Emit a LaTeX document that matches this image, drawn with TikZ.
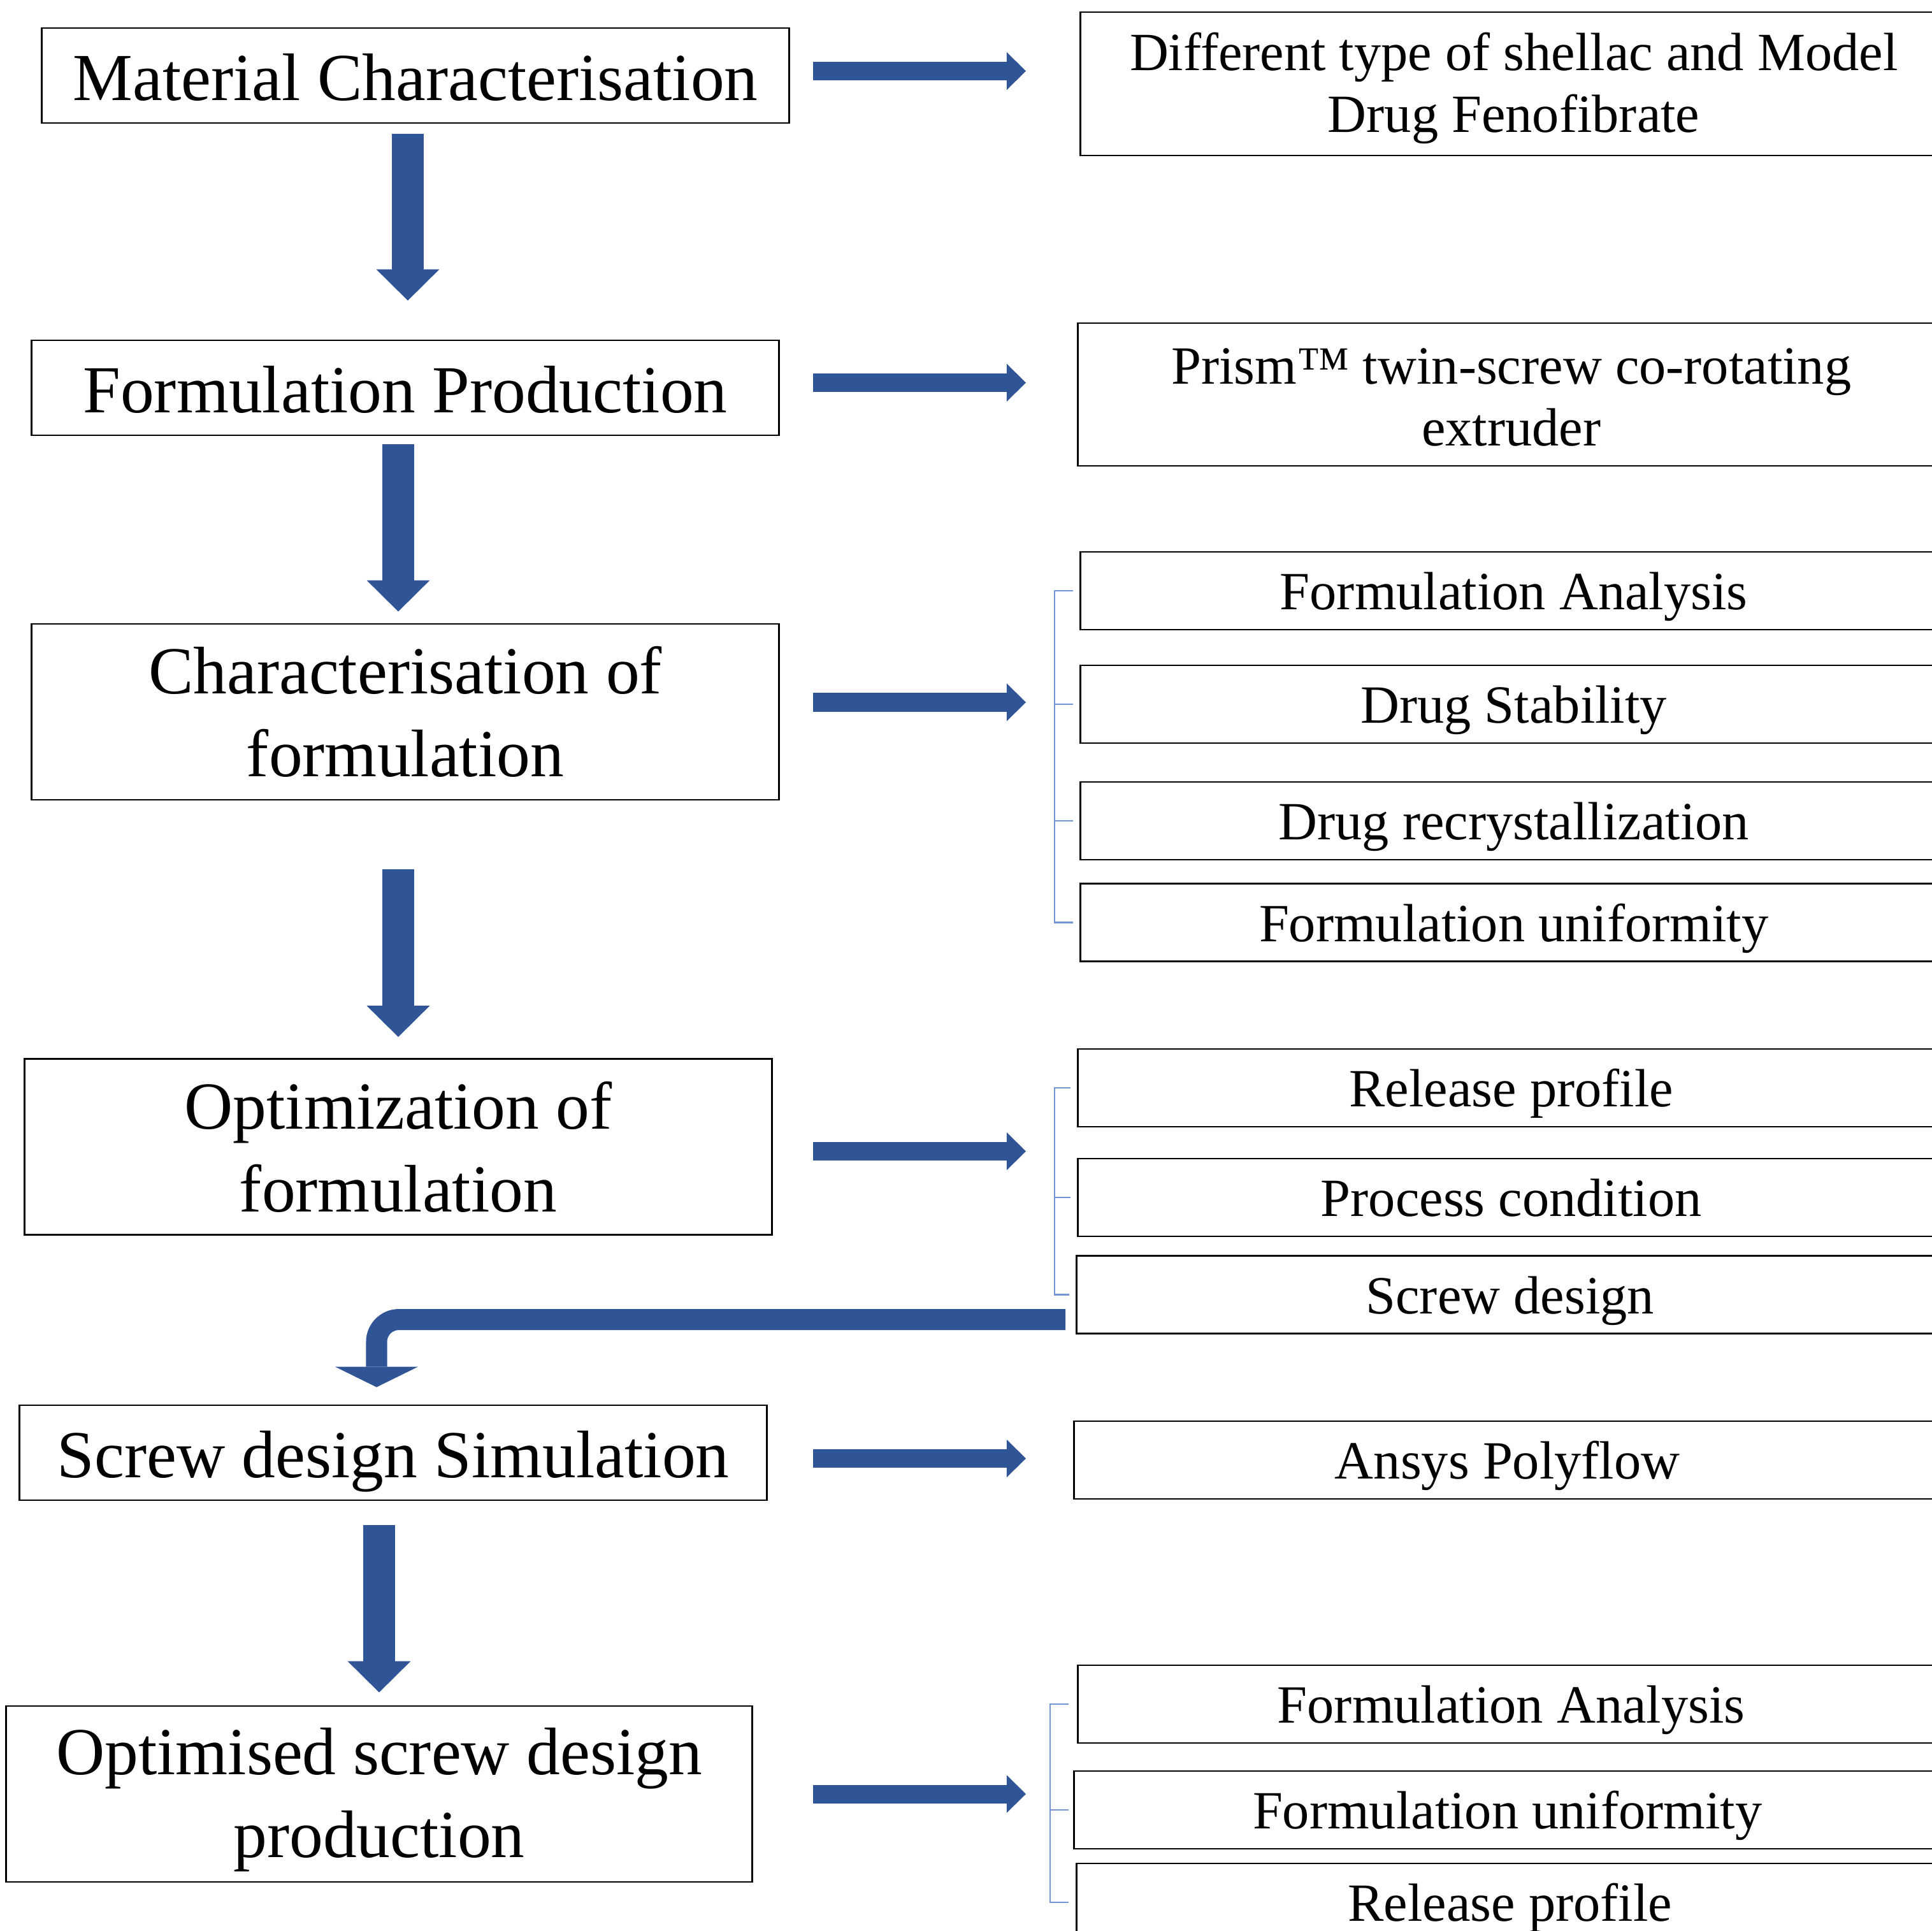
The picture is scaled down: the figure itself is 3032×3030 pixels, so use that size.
\documentclass[tikz,border=0pt]{standalone}
\usepackage{fontspec}
\setmainfont{Liberation Serif}
\usetikzlibrary{arrows.meta}
\definecolor{arrblue}{RGB}{47,85,151}
\definecolor{brkblue}{RGB}{114,150,212}

\begin{document}
\begin{tikzpicture}[x=0.01cm, y=-0.01cm,
	lbox/.style={draw, line width=0.75pt, minimum width=11.72cm, minimum height=1.49cm, inner sep=0pt, align=center, font=\fontsize{30}{37}\selectfont},
	one/.style={text height=25.6pt, text depth=3.6pt},
	tall/.style={minimum height=2.76cm},
	rbox/.style={draw, line width=0.75pt, anchor=west, minimum width=13.6cm, minimum height=1.22cm, inner sep=0pt, align=center, font=\fontsize{24}{27.6}\selectfont},
	rone/.style={text height=22.1pt, text depth=5.3pt},
	rarr/.style={arrblue, line width=0.29cm, -{Triangle[length=0.30cm, width=0.59cm, line width=0pt]}},
	darr/.style={arrblue, line width=0.49cm, -{Triangle[length=0.49cm, width=0.99cm, line width=0pt]}},
	brk/.style={brkblue, line width=0.7pt}]
	\useasboundingbox (0,0) rectangle (3032,3030);
	\clip (0,0) rectangle (3032,3030);
	%% steps
	\node[lbox, one] (lb1) at (652,118.5) {Material Characterisation};
	\node[lbox, one] (lb2) at (636,608.5) {Formulation Production};
	\node[lbox, tall] (lb3) at (636,1117) {Characterisation of\\formulation};
	\node[lbox, tall] (lb4) at (625,1799.5) {Optimization of\\formulation};
	\node[lbox, one] (lb5) at (617,2279.5) {Screw design Simulation};
	\node[lbox, tall, minimum width=11.7cm] (lb6) at (595,2815) {\rule{0pt}{26.2pt}Optimised screw design\\production};
	%% details
	\node[rbox, minimum height=2.25cm] (r1) at (1694,131.5) {\rule{0pt}{21pt}Different type of shellac and Model\\Drug Fenofibrate};
	\node[rbox, minimum height=2.24cm] (r2) at (1690,619) {\rule{0pt}{18.6pt}Prism™ twin-screw co-rotating\\extruder};
	\node[rbox, rone] (r3a) at (1694,927) {Formulation Analysis};
	\node[rbox, rone] (r3b) at (1694,1105) {Drug Stability};
	\node[rbox, rone] (r3c) at (1694,1288) {Drug recrystallization};
	\node[rbox, rone] (r3d) at (1694,1447.5) {Formulation uniformity};
	\node[rbox, rone] (r4a) at (1690,1707) {Release profile};
	\node[rbox, rone] (r4b) at (1690,1879) {Process condition};
	\node[rbox, rone] (r4c) at (1688,2031.5) {Screw design};
	\node[rbox, rone] (r5) at (1684,2291) {Ansys Polyflow};
	\node[rbox, rone] (r6a) at (1690,2674) {Formulation Analysis};
	\node[rbox, rone] (r6b) at (1684,2840) {Formulation uniformity};
	\node[rbox, rone] (r6c) at (1688,2985) {Release profile};
	%% arrows to the right
	\coordinate (ax) at (1276,0);
	\coordinate (bx) at (1610,0);
	\draw[rarr] ([yshift=0.07cm]lb1.east -| ax) -- ([yshift=0.07cm]lb1.east -| bx);
	\draw[rarr] ([yshift=0.08cm]lb2.east -| ax) -- ([yshift=0.08cm]lb2.east -| bx);
	\draw[rarr] ([yshift=0.15cm]lb3.east -| ax) -- ([yshift=0.15cm]lb3.east -| bx);
	\draw[rarr] ([yshift=-0.07cm]lb4.east -| ax) -- ([yshift=-0.07cm]lb4.east -| bx);
	\draw[rarr] ([yshift=-0.09cm]lb5.east -| ax) -- ([yshift=-0.09cm]lb5.east -| bx);
	\draw[rarr] (lb6.east -| ax) -- (lb6.east -| bx);
	%% arrows down
	\draw[darr, shorten <=0.16cm, shorten >=0.61cm] ([xshift=0.04cm]lb1.south -| lb2.north) -- ([xshift=0.04cm]lb2.north);
	\draw[darr, shorten <=0.13cm, shorten >=0.18cm] ([xshift=-0.11cm]lb2.south -| lb3.north) -- ([xshift=-0.11cm]lb3.north);
	\draw[darr, shorten <=1.08cm, shorten >=0.33cm] (lb3.south -| lb4.north) -- (lb4.north);
	\draw[darr, shorten <=0.38cm, shorten >=0.20cm] (lb5.south -| lb6.north) -- (lb6.north);
	%% bent arrow back to the simulation
	\coordinate (c5) at ([xshift=-0.26cm, yshift=0.27cm]lb5.north);
	\draw[arrblue, line width=0.33cm, rounded corners=0.35cm, -{Triangle[length=0.32cm, width=1.3cm, line width=0pt]}] ([xshift=-0.16cm, yshift=-0.39cm]r4c.west) -| (c5);
	%% brackets
	\draw[brk] ([xshift=-0.1cm]r3a.west) -| ([xshift=-0.39cm]r3d.west) -- ([xshift=-0.1cm]r3d.west);
	\draw[brk] ([xshift=-0.39cm]r3b.west) -- ([xshift=-0.1cm]r3b.west);
	\draw[brk] ([xshift=-0.39cm]r3c.west) -- ([xshift=-0.1cm]r3c.west);
	%%
	\draw[brk] ([xshift=-0.1cm]r4a.west) -| ([xshift=-0.33cm]r4c.west) -- ([xshift=-0.1cm]r4c.west);
	\draw[brk] ([xshift=-0.35cm]r4b.west) -- ([xshift=-0.1cm]r4b.west);
	%%
	\draw[brk] ([xshift=-0.13cm]r6a.west) -| ([xshift=-0.4cm]r6c.west) -- ([xshift=-0.11cm]r6c.west);
	\draw[brk] ([xshift=-0.36cm]r6b.west) -- ([xshift=-0.07cm]r6b.west);
\end{tikzpicture}
\end{document}
